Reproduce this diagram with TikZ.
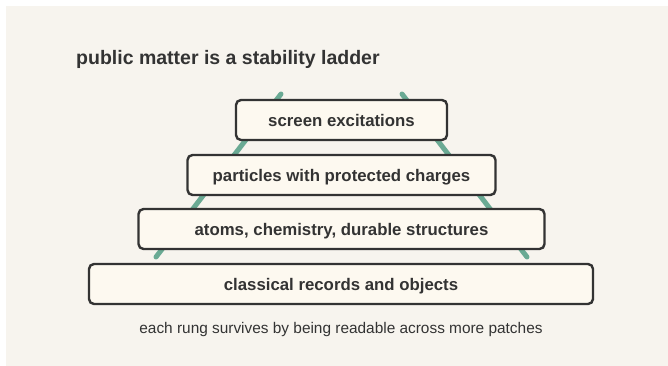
\documentclass[tikz,border=0pt]{standalone}
\usepackage{fontspec}
\setmainfont{Liberation Sans}
\definecolor{pagebg}{HTML}{F7F4EE}
\definecolor{rungfill}{HTML}{FDF9F0}
\definecolor{inkdark}{HTML}{333333}
\definecolor{railgreen}{HTML}{6AAA94}
\begin{document}
\begin{tikzpicture}[x=1pt,y=-1pt,
  rung/.style={draw=inkdark, line width=2.4pt, fill=rungfill, rounded corners=5pt,
    text=inkdark, font=\bfseries\fontsize{16.8}{19}\selectfont, inner sep=0pt,
    text height=12.4pt, text depth=0pt, anchor=center},
  rail/.style={draw=railgreen, line width=5pt, line cap=round},
  caption/.style={text=inkdark, font=\fontsize{15.4}{18}\selectfont}]
  \useasboundingbox (0,0) rectangle (668,366);
  \fill[white] (0,0) rectangle (668,366);
  \fill[pagebg] (6,6) rectangle (668,366);

  \node[anchor=base west, inner sep=0pt, text=inkdark, font=\bfseries\fontsize{19.5}{22}\selectfont] (title) at (76,65) {public matter is a stability ladder};

  % ladder rails behind the rungs
  \coordinate (lt) at (281,94);
  \coordinate (lb) at (156,257);
  \coordinate (rt) at (402,94);
  \coordinate (rb) at (527,257);
  \draw[rail] (lt) -- (lb);
  \draw[rail] (rt) -- (rb);

  \node[rung, minimum width=211pt, minimum height=40pt] (r1) at (341.5,120) {screen excitations};
  \node[rung, minimum width=308pt, minimum height=40pt] (r2) at (341.5,175) {particles with protected charges};
  \node[rung, minimum width=406pt, minimum height=40pt] (r3) at (341.5,229) {atoms, chemistry, durable structures};
  \node[rung, minimum width=504pt, minimum height=40pt] (r4) at (341,284) {classical records and objects};

  \node[caption, anchor=base] (cap) at (341,333.3) {each rung survives by being readable across more patches};
\end{tikzpicture}
\end{document}
